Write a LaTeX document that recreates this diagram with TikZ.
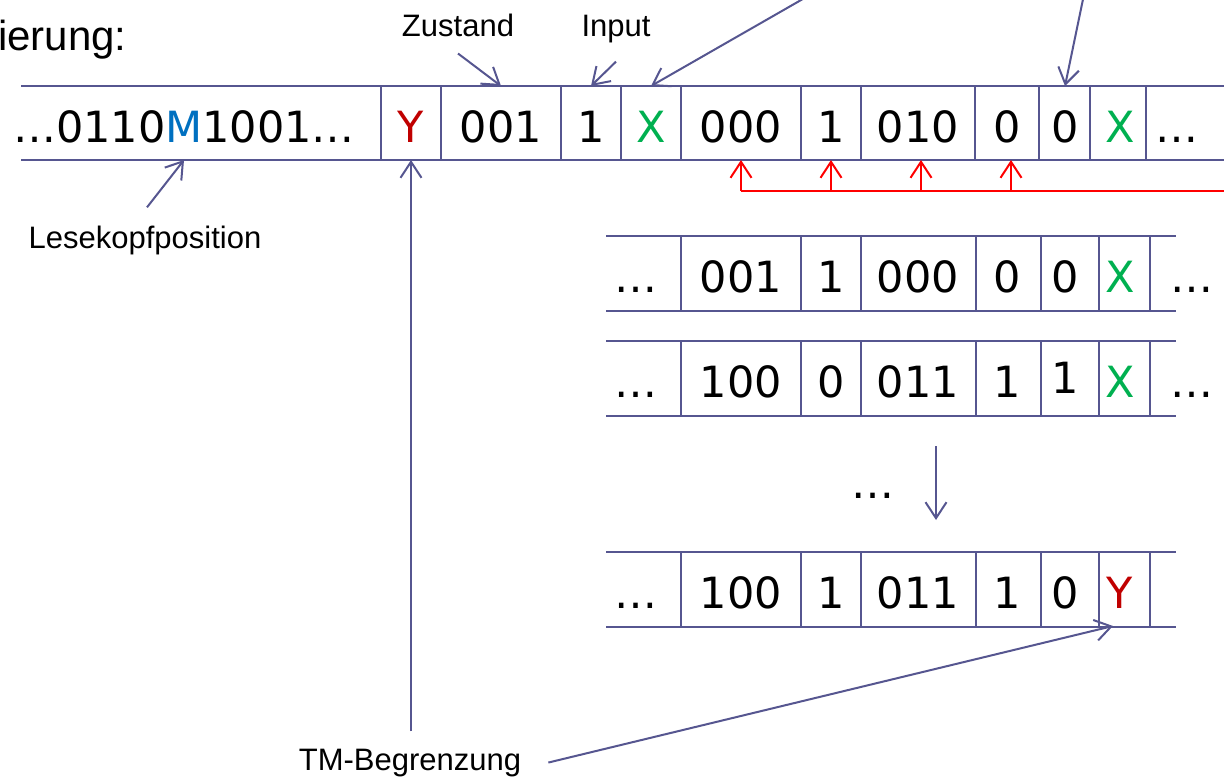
\documentclass[tikz,border=0pt]{standalone}
\usepackage{fontspec}
\setmainfont{Liberation Sans}
\newfontfamily\tapefont{DejaVu Sans}
\usepackage{xcolor}
\usetikzlibrary{arrows.meta, calc}

\definecolor{tapeblue}{RGB}{86,86,144}
\definecolor{xgreen}{RGB}{0,176,80}
\definecolor{yred}{RGB}{192,0,0}
\definecolor{mblue}{RGB}{0,112,192}

\begin{document}
\begin{tikzpicture}[
    x=1pt, y=-1pt,
    tape/.style={draw=tapeblue, line width=2.4pt},
    sym/.style={anchor=base, inner sep=0pt, font=\tapefont\fontsize{43}{50}\selectfont},
    lbl/.style={anchor=base, inner sep=0pt, font=\fontsize{31}{36}\selectfont},
    ptr/.style={-{Straight Barb[length=16pt, width=21pt]}, draw=tapeblue, line width=2pt},
    redptr/.style={-{Straight Barb[length=16pt, width=21pt]}, draw=red, line width=2pt}
    ]
    \useasboundingbox (0,0) rectangle (1224,779);
    \clip (0,0) rectangle (1224,779);

    % Tapes
    \draw[tape] (21,86) -- (1224,86) (21,160) -- (1224,160);
    \foreach \x in {381,441,561,621,681,801,861,975,1039,1090,1146}
        \draw[tape] (\x,86) -- (\x,160);
    \foreach \y in {236,341,552} {
        \draw[tape] (606,\y) -- (1176,\y) (606,\y+75) -- (1176,\y+75);
        \foreach \x in {681,801,861,976,1041,1099,1150}
            \draw[tape] (\x,\y) -- (\x,\y+75);
    }
    \coordinate (top1) at (0,86);
    \coordinate (bot1) at (0,160);
    \coordinate (bot4) at (0,626);
    \coordinate (redline) at (0,191);

    % Nodes
    \node[lbl, anchor=base west, font=\fontsize{42}{48}\selectfont] (title) at (-2,50) {ierung:};

    \node[sym] (head) at (184,142) {…0110\textcolor{mblue}{M}1001…};
    \node[sym, text=yred] (tmL) at (411,142) {Y};
    \node[sym] (state) at (501,142) {001};
    \node[sym] (inp) at (591,142) {1};
    \node[sym, text=xgreen] (sep1) at (651,142) {X};
    \node[sym] (q1) at (741,142) {000};
    \node[sym] (a1) at (831,142) {1};
    \node[sym] (q2) at (918,142) {010};
    \node[sym] (b1) at (1007,142) {0};
    \node[sym] (d1) at (1065,142) {0};
    \node[sym, text=xgreen] (sep2) at (1120,142) {X};
    \node[sym] (rest) at (1177,142) {…};

    \foreach \x/\s [count=\i] in {636/…, 741/001, 831/1, 918/000, 1007/0, 1065/0,
            1120/\textcolor{xgreen}{X}, 1192/…}
        \node[sym] (ra\i) at (\x,292) {\s};
    \foreach \x/\s [count=\i] in {636/…, 741/100, 831/0, 918/011, 1007/1, 1065/\raisebox{4pt}{1},
            1120/\textcolor{xgreen}{X}, 1192/…}
        \node[sym] (rb\i) at (\x,397) {\s};
    \foreach \x/\s [count=\i] in {636/…, 741/100, 831/1, 918/011, 1007/1, 1065/0,
            1120/\textcolor{yred}{Y}}
        \node[sym] (rc\i) at (\x,608) {\s};

    \node[sym] (more) at (873,498) {…};
    \coordinate (dnA) at (936,446);
    \coordinate (dnB) at (936,520);

    \node[lbl] (zustand) at (458,36) {Zustand};
    \node[lbl] (input) at (616,36) {Input};
    \node[lbl] (lkp) at (145,248) {Lesekopfposition};
    \node[lbl] (tmb) at (410,770) {TM-Begrenzung};
    \coordinate (xsrc) at (836,-20);
    \coordinate (dsrc) at (1087,-20);
    \coordinate (tmtop) at ([yshift=17pt]tmb.north);
    \coordinate (redend) at (1240,191);

    % Edges
    \draw[ptr] ([yshift=-17pt]zustand.south) -- (state |- top1);
    \draw[ptr] ([yshift=-19pt]input.south) -- (inp |- top1);
    \draw[ptr] (xsrc) -- (sep1 |- top1);
    \draw[ptr] (dsrc) -- (d1 |- top1);
    \draw[ptr] ([xshift=2pt, yshift=18pt]lkp.north) -- (head |- bot1);
    \draw[ptr] (tmL |- tmtop) -- (tmL |- bot1);
    \draw[ptr] ([xshift=27pt]tmb.east) -- ([xshift=-7pt]rc7 |- bot4);
    \draw[ptr] (dnA) -- (dnB);

    \draw[red, line width=2pt] (q1 |- redline) -- (redend);
    \foreach \c/\dx in {q1/0, a1/0, q2/3, b1/4}
        \draw[redptr] ([xshift=\dx pt]\c |- redline) -- ([xshift=\dx pt]\c |- bot1);
\end{tikzpicture}
\end{document}
